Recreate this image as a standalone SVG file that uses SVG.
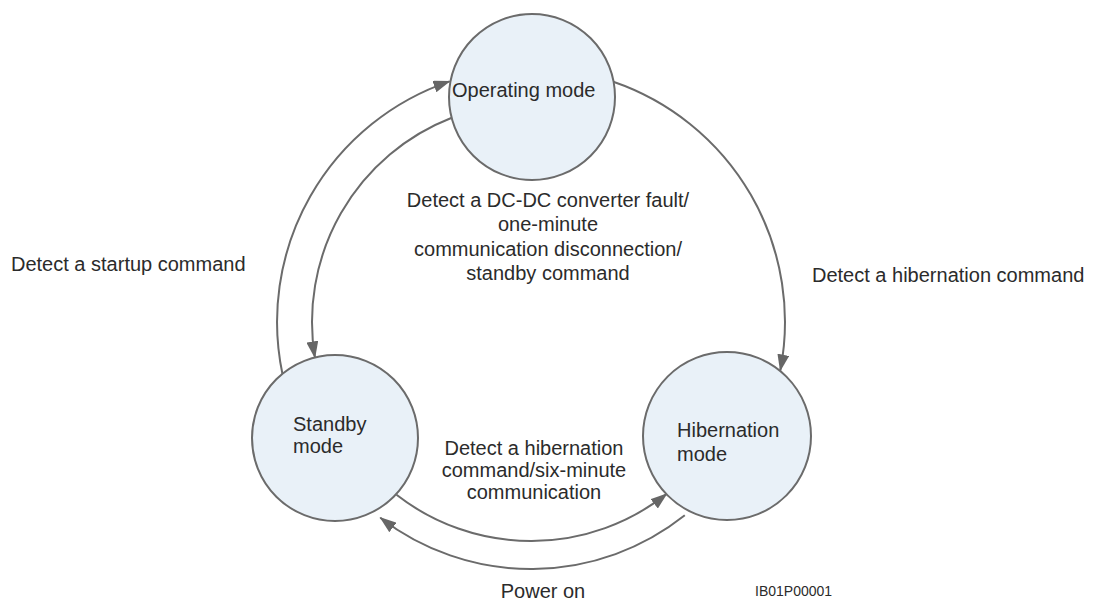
<svg xmlns="http://www.w3.org/2000/svg" width="1094" height="603" viewBox="0 0 1094 603">
  <defs>
    <style>
      .state { fill: #e9f1f8; stroke: #6b6b6b; stroke-width: 2; }
      .lbl { font-family: "Liberation Sans", Arial, sans-serif; font-size: 20px; fill: #2b2b2b; }
      .mid { text-anchor: middle; }
      .conn { fill: none; stroke: #6b6b6b; stroke-width: 2; marker-end: url(#arrow); }
      .code { font-family: "Liberation Sans", Arial, sans-serif; font-size: 14px; fill: #2b2b2b; }
    </style>
    <marker id="arrow" markerUnits="userSpaceOnUse" markerWidth="17" markerHeight="12" viewBox="0 0 17 12" refX="16" refY="6" orient="auto">
      <path d="M0,0 L17,6 L0,12 z" fill="#666666"/>
    </marker>
  </defs>
  <rect width="1094" height="603" fill="#ffffff"/>

  <g id="connectors">
    <path class="conn" d="M 282.6 374.8 A 254 254 0 0 1 449.6 81.4"/>
    <path class="conn" d="M 451.8 117.8 A 219 219 0 0 0 314.9 357.4"/>
    <path class="conn" d="M 613.3 81.7 A 254 254 0 0 1 780.3 370.5"/>
    <path class="conn" d="M 396.5 494.8 A 219 219 0 0 0 666.7 493.9"/>
    <path class="conn" d="M 684.8 515.3 A 247 247 0 0 1 380.3 517.7"/>
  </g>

  <g id="operating">
    <circle class="state" cx="532" cy="97" r="83"/>
    <text class="lbl" x="452" y="97">Operating mode</text>
  </g>

  <g id="standby">
    <circle class="state" cx="335" cy="438" r="83"/>
    <text class="lbl" x="293" y="431">Standby</text>
    <text class="lbl" x="293" y="453">mode</text>
  </g>

  <g id="hibernation">
    <circle class="state" cx="727" cy="436" r="84"/>
    <text class="lbl" x="677" y="437">Hibernation</text>
    <text class="lbl" x="677" y="461">mode</text>
  </g>

  <g id="labels">
    <text class="lbl" x="11" y="271">Detect a startup command</text>
    <text class="lbl" x="812" y="282">Detect a hibernation command</text>
    <text class="lbl mid" x="548" y="207">Detect a DC-DC converter fault/</text>
    <text class="lbl mid" x="548" y="231">one-minute</text>
    <text class="lbl mid" x="548" y="256">communication disconnection/</text>
    <text class="lbl mid" x="548" y="280">standby command</text>
    <text class="lbl mid" x="534" y="455">Detect a hibernation</text>
    <text class="lbl mid" x="534" y="477">command/six-minute</text>
    <text class="lbl mid" x="534" y="499">communication</text>
    <text class="lbl mid" x="543" y="598">Power on</text>
    <text class="code" x="755" y="596">IB01P00001</text>
  </g>
</svg>
